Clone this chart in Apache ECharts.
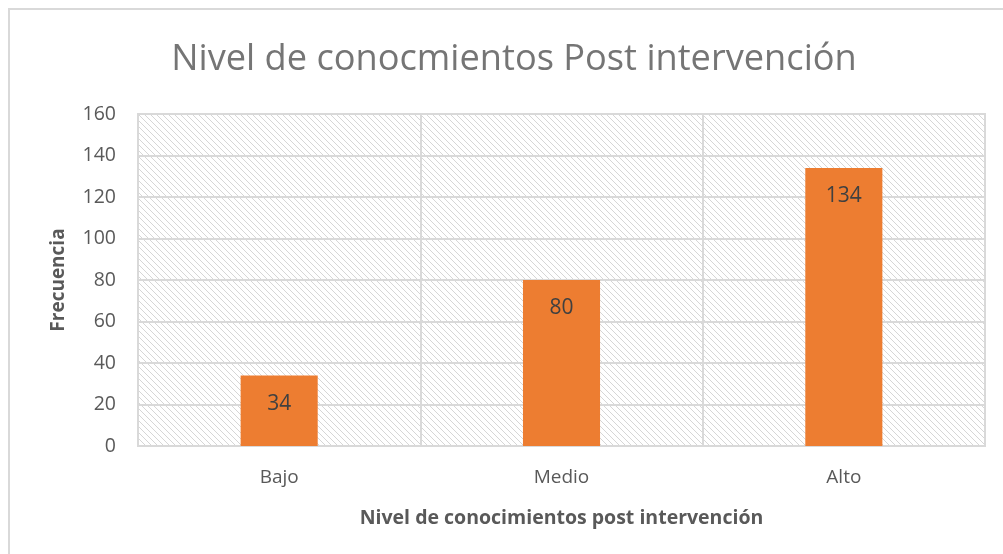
<!DOCTYPE html>
<html><head><meta charset="utf-8">
<script src="https://cdn.jsdelivr.net/npm/echarts@6/dist/echarts.min.js"></script>
<style>html,body{margin:0;padding:0;background:#fff}#c{width:1003px;height:554px}</style>
</head><body><div id="c"></div>
<script>
const categories = ['Bajo', 'Medio', 'Alto'];
const frecuencia = [34, 80, 134];
const yTicks = { min: 0, max: 160, interval: 20 };

function hatch() {
  const s = 6, cv = document.createElement('canvas');
  cv.width = s; cv.height = s;
  const g = cv.getContext('2d');
  g.fillStyle = '#ffffff'; g.fillRect(0, 0, s, s);
  g.fillStyle = '#d6d6d6';
  for (let i = 0; i < s; i++) { g.fillRect(i, i, 1, 1); }
  return cv;
}

const chart = echarts.init(document.getElementById('c'));
chart.setOption({
  animation: false,
  backgroundColor: '#fff',
  title: {
    text: 'Nivel de conocmientos Post intervención',
    left: 509, top: 37, textAlign: 'center',
    textStyle: { fontFamily: 'Open Sans', fontSize: 36.2, fontWeight: 'normal', color: '#757575' }
  },
  graphic: [{
    type: 'rect', shape: { x: 9, y: 9, width: 1200, height: 800 },
    style: { fill: 'none', stroke: '#d9d9d9', lineWidth: 2 }, silent: true, z: 100
  }],
  grid: {
    left: 138, top: 114, right: 18, bottom: 108, show: true,
    backgroundColor: { image: hatch(), repeat: 'repeat' },
    borderColor: '#d9d9d9', borderWidth: 2
  },
  xAxis: {
    type: 'category', data: categories,
    name: 'Nivel de conocimientos post intervención', nameLocation: 'middle', nameGap: 62,
    nameTextStyle: { fontFamily: 'Open Sans', fontSize: 19.5, fontWeight: 'bold', color: '#595959' },
    axisLine: { show: true, lineStyle: { color: '#d9d9d9', width: 2 } },
    axisTick: { show: false },
    axisLabel: { fontFamily: 'Open Sans', fontSize: 19, color: '#595959', margin: 22 },
    splitLine: { show: true, lineStyle: { color: '#d9d9d9', width: 2 } }
  },
  yAxis: {
    type: 'value', min: yTicks.min, max: yTicks.max, interval: yTicks.interval,
    name: 'Frecuencia', nameLocation: 'middle', nameGap: 70, nameRotate: 90,
    nameTextStyle: { fontFamily: 'Open Sans', fontSize: 19, fontWeight: 'bold', color: '#595959' },
    axisLine: { show: false }, axisTick: { show: false },
    axisLabel: { fontFamily: 'Open Sans', fontSize: 19.5, color: '#595959', margin: 22 },
    splitLine: { show: true, lineStyle: { color: '#d9d9d9', width: 2 } }
  },
  series: [{
    type: 'bar', data: frecuencia, barWidth: '27.3%',
    itemStyle: { color: '#ED7D31' },
    label: { show: true, position: 'insideTop', distance: 18,
      fontFamily: 'Open Sans', fontSize: 21, color: '#404040' }
  }]
});
</script></body></html>
